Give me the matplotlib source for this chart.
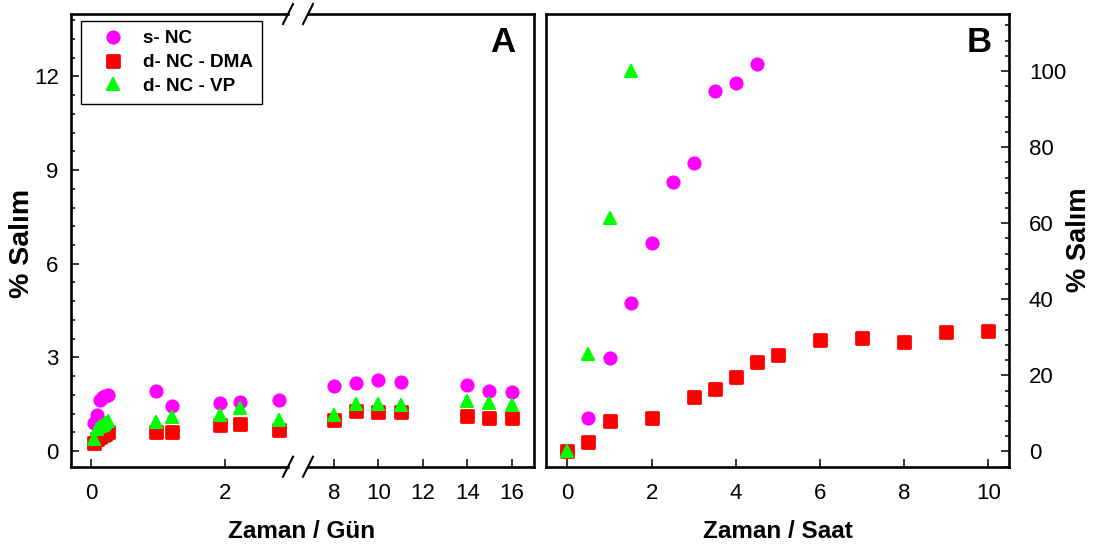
import numpy as np
import matplotlib
matplotlib.use("Agg")
import matplotlib.pyplot as plt
from matplotlib.lines import Line2D
from matplotlib.markers import MarkerStyle
from matplotlib.ticker import MultipleLocator

plt.rcParams['font.family'] = ['Liberation Sans', 'DejaVu Sans']

# --- panel A data (days), split by the axis break ---
gun_sol = [0.04, 0.08, 0.125, 0.17, 0.21, 0.25, 0.96, 1.2, 1.92, 2.22, 2.81]
snc_sol = [0.9, 1.15, 1.65, 1.72, 1.77, 1.8, 1.94, 1.45, 1.53, 1.58, 1.63]
dma_sol = [0.27, 0.4, 0.45, 0.5, 0.55, 0.6, 0.62, 0.62, 0.83, 0.86, 0.67]
vp_sol = [0.4, 0.7, 0.8, 0.85, 0.9, 0.95, 0.94, 1.1, 1.15, 1.37, 1.01]

gun_sag = [8, 9, 10, 11, 14, 15, 16]
snc_sag = [2.09, 2.19, 2.29, 2.22, 2.11, 1.92, 1.88]
dma_sag = [0.99, 1.28, 1.25, 1.25, 1.12, 1.05, 1.05]
vp_sag = [1.15, 1.5, 1.5, 1.47, 1.62, 1.53, 1.47]

# --- panel B data (hours) ---
saat_snc = [0, 0.5, 1, 1.5, 2, 2.5, 3, 3.5, 4, 4.5]
snc_b = [0, 8.9, 24.7, 39.1, 54.7, 70.9, 75.9, 94.7, 96.8, 101.8]
saat_vp = [0, 0.5, 1, 1.5]
vp_b = [0, 25.7, 61.3, 100]
saat_dma = [0, 0.5, 1, 2, 3, 3.5, 4, 4.5, 5, 6, 7, 8, 9, 10]
dma_b = [0, 2.6, 8.1, 8.9, 14.4, 16.3, 19.7, 23.5, 25.4, 29.3, 29.8, 28.9, 31.4, 31.7]

labels = ['s- NC', 'd- NC - DMA', 'd- NC - VP']

W, H = 1101, 551
fig = plt.figure(figsize=(W / 100, H / 100), dpi=100)


def box(x0, y0, x1, y1):
    return [x0 / W, 1 - y1 / H, (x1 - x0) / W, (y1 - y0) / H]


top, bot = 14, 466.7
axA1 = fig.add_axes(box(71.2, top, 288, bot))
axA2 = fig.add_axes(box(308, top, 533.8, bot))
axB = fig.add_axes(box(546.4, top, 1009.4, bot))

sty = dict(linestyle='none')
m_circ = dict(marker='o', ms=10.2, color='#ff00ff', mec='#ff00ff', mew=0)
m_sq = dict(marker=MarkerStyle('s', joinstyle='round'), ms=8.2, color='#ff0000',
            mec='#ff0000', mew=2.0)
m_tri = dict(marker=MarkerStyle('^', joinstyle='round'), ms=9.3, color='#00ff00',
             mec='#00ff00', mew=1.5)

for ax, x, a, b, c in [(axA1, gun_sol, snc_sol, dma_sol, vp_sol),
                       (axA2, gun_sag, snc_sag, dma_sag, vp_sag)]:
    ax.plot(x, a, **sty, **m_circ)
    ax.plot(x, b, **sty, **m_sq)
    ax.plot(x, c, **sty, **m_tri)

axB.plot(saat_snc, snc_b, **sty, **m_circ)
axB.plot(saat_dma, dma_b, **sty, **m_sq)
axB.plot(saat_vp, vp_b, **sty, **m_tri)

lw = 1.9
for ax in (axA1, axA2, axB):
    for s in ax.spines.values():
        s.set_linewidth(lw)
    ax.tick_params(which='both', direction='in', width=1.1, labelsize=16,
                   top=False, right=False)
    ax.tick_params(which='major', length=5.5)
    ax.tick_params(which='minor', length=3)
    ax.tick_params(axis='x', pad=12)

axA1.set_xlim(-0.3, 2.94)
axA2.set_xlim(6.83, 17)
for ax in (axA1, axA2):
    ax.set_ylim(-0.5, 14)
axA1.set_xticks([0, 2])
axA2.set_xticks([8, 10, 12, 14, 16])
axA1.set_yticks([0, 3, 6, 9, 12])
axA1.yaxis.set_minor_locator(MultipleLocator(0.6))
axA1.tick_params(axis='y', pad=9)
axA1.spines['right'].set_visible(False)
axA2.spines['left'].set_visible(False)
axA2.tick_params(axis='y', which='both', left=False, labelleft=False)

axB.set_xlim(-0.5, 10.5)
axB.set_ylim(-4, 115)
axB.set_xticks([0, 2, 4, 6, 8, 10])
axB.set_yticks([0, 20, 40, 60, 80, 100])
axB.yaxis.set_minor_locator(MultipleLocator(4))
axB.tick_params(axis='y', which='both', left=False, labelleft=False,
                right=True, labelright=True, pad=14)

# break marks on the panel A axis
for xb in (288, 308):
    for yb in (top, bot):
        fig.add_artist(Line2D([(xb - 5) / W, (xb + 5) / W],
                              [1 - (yb + 10) / H, 1 - (yb - 10) / H],
                              color='black', lw=1.5))

lab = dict(fontsize=17.5, fontweight='bold')
fig.text(22 / W, 1 - 243 / H, '% Salım', rotation=90, ha='center', va='center',
         fontsize=20.5, fontweight='bold')
fig.text(1079 / W, 1 - 240 / H, '% Salım', rotation=90, ha='center', va='center',
         fontsize=19.6, fontweight='bold')
fig.text(302 / W, 1 - 532 / H, 'Zaman / Gün', ha='center', va='center', **lab)
fig.text(778 / W, 1 - 532 / H, 'Zaman / Saat', ha='center', va='center', **lab)
fig.text(502.6 / W, 1 - 42 / H, 'A', ha='center', va='center', fontsize=25, fontweight='bold')
fig.text(979 / W, 1 - 43 / H, 'B', ha='center', va='center', fontsize=25, fontweight='bold')

handles = [Line2D([], [], **sty, **m_circ), Line2D([], [], **sty, **m_sq),
           Line2D([], [], **sty, **m_tri)]
leg = axA1.legend(handles, labels, loc='upper left',
                  bbox_to_anchor=(81.4 / W, 1 - 20.7 / H),
                  bbox_transform=fig.transFigure, borderaxespad=0,
                  prop=dict(size=13.6, weight='bold'), frameon=True,
                  fancybox=False, edgecolor='black', framealpha=1,
                  borderpad=0.5, handlelength=2.3, handletextpad=0.45,
                  labelspacing=0.35, numpoints=1)
leg.get_frame().set_linewidth(1.0)

fig.savefig('out.png', dpi=100)
